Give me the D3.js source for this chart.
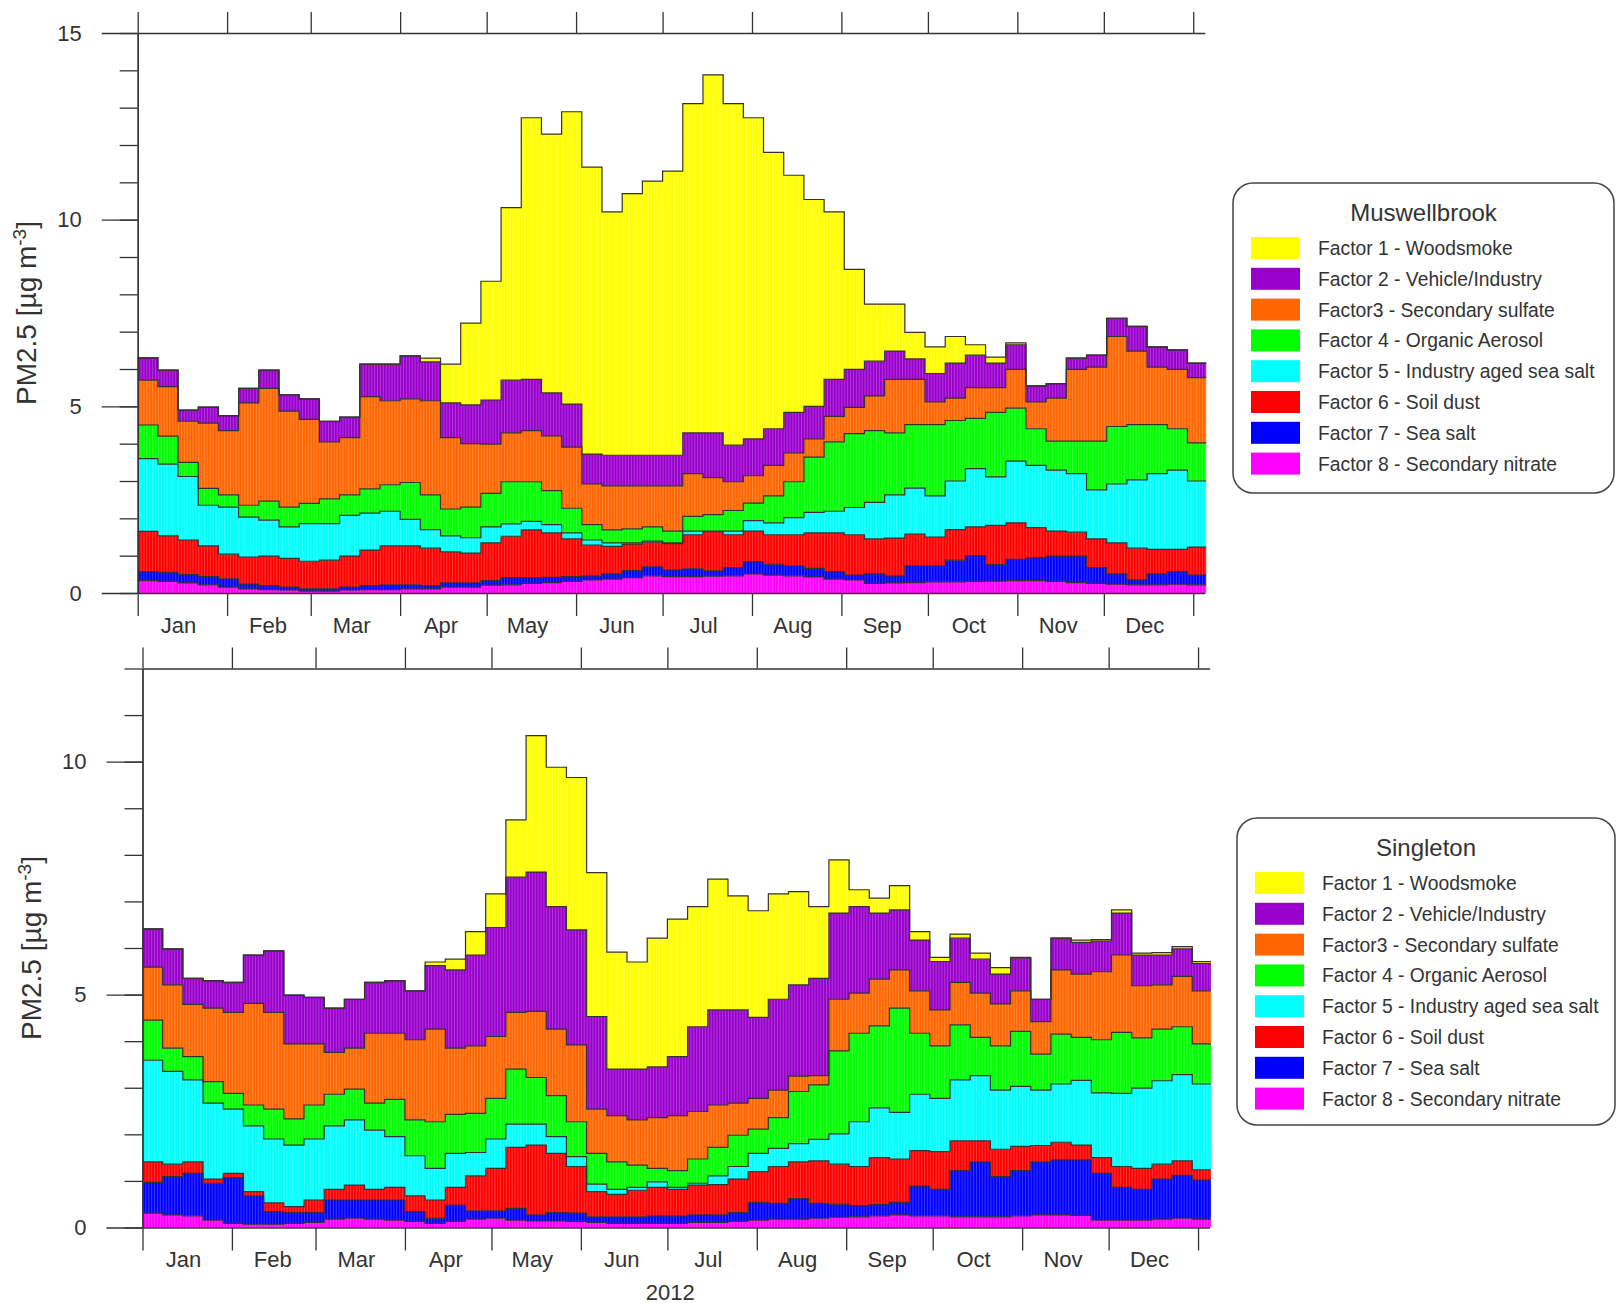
<meta charset="utf-8">
<head>
<script src="https://d3js.org/d3.v7.min.js"></script>
<style>
  body { margin: 0; background: #fff; }
  text { font-family: "Liberation Sans", Arial, sans-serif; fill: #333; }
</style>
</head>
<body>
<div id="container"></div>
<script>

// weekly samples, day of year 2012 at the start of each week
var weekDay = [0,7,14,21,28,35,42,49,56,63,70,77,84,91,98,105,112,119,126,133,140,147,154,161,168,175,182,189,196,203,210,217,224,231,238,245,252,259,266,273,280,287,294,301,308,315,322,329,336,343,350,357,364];

var months = ["Jan","Feb","Mar","Apr","May","Jun","Jul","Aug","Sep","Oct","Nov","Dec"];
var monthStart = [0,31,60,91,121,152,182,213,244,274,305,335,366];

var factorNames = ["Factor 1 - Woodsmoke","Factor 2 - Vehicle/Industry","Factor3 - Secondary sulfate","Factor 4 - Organic Aerosol","Factor 5 - Industry aged sea salt","Factor 6 - Soil dust","Factor 7 - Sea salt","Factor 8 - Secondary nitrate"];
var factorColors = ["#ffff00","#9900cc","#ff6600","#00ff00","#00ffff","#ff0000","#0000ff","#ff00ff"];

// Muswellbrook
var mus_f1 = [0,0,0,0,0,0,0,0,0,0,0,0,0,0,0.1,1.04,2.19,3.18,4.62,7.01,6.93,7.83,7.69,6.52,7.01,7.34,7.61,8.82,9.59,9.15,8.6,7.4,6.35,5.54,4.49,2.68,1.53,1.26,0.71,0.71,0.71,0.28,0.16,0.05,0,0,0,0,0,0,0,0,0];
var mus_f2 = [0.6,0.44,0.3,0.43,0.4,0.39,0.49,0.44,0.55,0.55,0.55,0.87,0.98,1.15,1.04,0.93,1.04,1.18,1.41,1.37,1.15,1.15,0.8,0.82,0.82,0.82,0.82,1.09,1.2,0.98,0.99,0.98,1.09,0.87,0.99,1.02,0.93,0.76,0.55,0.76,0.94,0.87,0.66,0.66,0.43,0.39,0.3,0.32,0.49,0.66,0.54,0.52,0.39];
var mus_f3 = [1.2,1.33,1.1,1.75,1.72,2.74,3.02,2.57,2.25,1.53,1.53,2.47,2.25,2.24,2.52,1.91,1.7,1.32,1.31,1.37,1.47,1.64,1.09,1.18,1.15,1.1,1.21,1.15,0.99,0.77,0.73,0.82,0.77,0.49,0.68,0.7,0.93,1.43,1.21,0.61,0.6,0.82,0.66,1.04,0.72,1.15,1.92,1.98,2.41,1.97,1.54,1.59,1.75];
var mus_f4 = [0.9,0.75,0.38,0.45,0.33,0.32,0.51,0.53,0.54,0.66,0.55,0.65,0.71,0.99,0.93,0.72,0.82,0.9,1.13,1.06,0.91,0.66,0.41,0.35,0.38,0.38,0.32,0.39,0.44,0.55,0.47,0.72,0.96,1.48,1.86,1.98,1.92,1.66,1.7,1.91,1.62,1.35,1.73,1.42,0.98,0.78,0.87,1.31,1.54,1.48,1.31,1.11,1.02];
var mus_f5 = [1.95,1.92,1.7,1.09,1.26,1.07,0.96,0.84,1.01,0.98,1.09,0.99,0.93,0.71,0.5,0.43,0.41,0.43,0.33,0.23,0.22,0.16,0.14,0.09,0.03,0.03,0.02,0.1,0.02,0.1,0.28,0.32,0.46,0.55,0.58,0.73,0.98,1.16,1.23,1.1,1.3,1.56,1.3,1.65,1.67,1.63,1.57,1.31,1.58,1.83,2.03,2.12,1.77];
var mus_f6 = [1.08,0.98,0.93,0.82,0.66,0.72,0.79,0.77,0.74,0.77,0.83,0.95,1.04,1.04,1.0,0.83,0.8,1.01,1.11,1.28,1.19,1.01,0.82,0.74,0.71,0.66,0.7,0.91,1.05,0.88,0.82,0.79,0.83,0.95,1.04,1.08,0.94,1.01,0.85,0.77,0.82,0.77,1.05,0.98,0.8,0.67,0.64,0.77,0.83,0.85,0.66,0.6,0.75];
var mus_f7 = [0.24,0.24,0.22,0.22,0.22,0.13,0.11,0.08,0.06,0.06,0.08,0.11,0.13,0.11,0.09,0.11,0.11,0.12,0.19,0.15,0.14,0.13,0.11,0.14,0.19,0.24,0.18,0.21,0.14,0.22,0.33,0.29,0.27,0.23,0.2,0.13,0.25,0.19,0.45,0.43,0.58,0.69,0.44,0.57,0.62,0.68,0.71,0.42,0.27,0.13,0.29,0.33,0.26];
var mus_f8 = [0.33,0.31,0.27,0.22,0.16,0.11,0.09,0.08,0.05,0.05,0.08,0.09,0.09,0.11,0.11,0.16,0.16,0.21,0.22,0.26,0.28,0.31,0.35,0.37,0.41,0.46,0.44,0.44,0.45,0.46,0.51,0.48,0.46,0.43,0.37,0.35,0.26,0.27,0.28,0.3,0.3,0.31,0.32,0.33,0.33,0.31,0.28,0.26,0.24,0.22,0.22,0.24,0.22];

// Singleton
var sin_f1 = [0,0,0,0,0,0,0,0,0,0,0,0,0,0,0.08,0.23,0.5,0.72,1.23,2.93,2.99,3.27,3.09,2.51,2.3,2.76,2.95,2.58,2.81,2.45,2.29,2.26,2.0,1.54,1.14,0.36,0.32,0.52,0.18,0.09,0.09,0.13,0.14,0.02,0,0,0.05,0.03,0.07,0.04,0.05,0.05,0.04];
var sin_f2 = [0.82,0.77,0.56,0.59,0.64,1.04,1.32,1.05,1.0,0.95,1.05,1.09,1.13,1.05,1.36,1.68,1.95,2.34,2.9,2.99,2.63,2.47,1.99,1.0,1.09,1.09,1.27,1.82,2.04,2.0,1.74,1.95,1.96,2.09,1.85,1.86,1.42,1.29,1.09,1.04,0.95,0.73,0.64,0.7,0.48,0.68,0.68,0.66,0.9,0.66,0.64,0.59,0.59];
var sin_f3 = [1.14,1.36,1.12,1.58,1.74,2.18,2.08,1.61,1.31,0.9,0.88,1.5,1.42,1.72,1.99,1.42,1.45,1.33,1.22,1.42,1.43,1.65,0.95,0.99,0.97,1.09,1.18,1.02,0.91,0.69,0.66,0.59,0.33,0.2,1.11,0.86,1.0,0.82,0.91,0.77,0.91,0.95,0.9,0.87,0.7,1.38,1.36,1.46,1.66,1.12,0.95,1.08,1.14];
var sin_f4 = [0.86,0.5,0.5,0.46,0.34,0.45,0.64,0.56,0.73,0.68,0.66,0.58,0.8,0.77,1.0,0.84,0.84,0.87,1.18,1.0,0.88,0.75,0.66,0.59,0.48,0.29,0.36,0.52,0.61,0.67,0.52,0.66,1.12,1.17,1.78,1.9,1.76,2.24,1.31,1.13,1.18,0.82,0.95,1.18,0.77,1.07,0.92,1.14,1.31,1.08,1.11,1.03,0.86];
var sin_f5 = [2.18,1.99,1.76,1.63,1.38,1.41,1.37,1.32,1.31,1.36,1.4,1.27,1.09,0.86,0.68,0.73,0.5,0.63,0.5,0.45,0.36,0.21,0.16,0.11,0.06,0.12,0.04,0.04,0.19,0.27,0.39,0.39,0.39,0.46,0.65,0.96,1.07,1.0,1.21,1.14,1.31,1.4,1.27,1.29,1.19,1.25,1.39,1.39,1.57,1.72,1.79,1.85,1.84];
var sin_f6 = [0.44,0.27,0.25,0.09,0.09,0.09,0.19,0.13,0.27,0.23,0.32,0.23,0.27,0.34,0.39,0.38,0.75,0.91,1.31,1.5,1.27,1.0,0.54,0.48,0.57,0.61,0.57,0.64,0.65,0.72,0.66,0.79,0.79,0.91,0.86,0.84,1.01,0.93,0.76,0.81,0.64,0.45,0.59,0.52,0.35,0.38,0.32,0.34,0.45,0.45,0.32,0.31,0.22];
var sin_f7 = [0.66,0.82,0.91,0.79,0.98,0.61,0.27,0.23,0.21,0.41,0.39,0.41,0.43,0.21,0.11,0.35,0.18,0.16,0.25,0.13,0.18,0.18,0.12,0.14,0.14,0.16,0.16,0.16,0.16,0.19,0.38,0.34,0.44,0.32,0.28,0.24,0.24,0.27,0.64,0.57,0.99,1.18,0.86,0.97,1.14,1.18,1.19,1.0,0.7,0.66,0.86,0.92,0.84];
var sin_f8 = [0.31,0.27,0.25,0.16,0.09,0.07,0.07,0.09,0.11,0.18,0.2,0.18,0.16,0.13,0.09,0.13,0.18,0.2,0.16,0.14,0.14,0.13,0.11,0.09,0.09,0.09,0.09,0.11,0.11,0.13,0.16,0.18,0.18,0.2,0.22,0.23,0.25,0.27,0.25,0.25,0.23,0.23,0.23,0.25,0.27,0.27,0.26,0.16,0.16,0.16,0.18,0.2,0.18];

var width = 1617, height = 1303;
var pxPerDay = 2.884;
var lastDay = 370;

var svg = d3.select('#container').append('svg')
    .attr('width', width)
    .attr('height', height);

var panels = [
  { name: 'Muswellbrook', series: [mus_f1,mus_f2,mus_f3,mus_f4,mus_f5,mus_f6,mus_f7,mus_f8],
    left: 137.7, bottom: 593, top: 33, ymax: 15, majors: [0,5,10,15],
    legend: { x: 1233, y: 183, w: 381, h: 310 }, yearLabel: false },
  { name: 'Singleton', series: [sin_f1,sin_f2,sin_f3,sin_f4,sin_f5,sin_f6,sin_f7,sin_f8],
    left: 142.5, bottom: 1227.5, top: 668.5, ymax: 12, majors: [0,5,10],
    legend: { x: 1237, y: 818, w: 378, h: 307 }, yearLabel: true }
];

panels.forEach(drawPanel);

function drawPanel(p) {
    var x = d3.scaleLinear().domain([0, lastDay]).range([p.left, p.left + lastDay*pxPerDay]);
    var y = d3.scaleLinear().domain([0, p.ymax]).range([p.bottom, p.top]);

    var keys = ['f8','f7','f6','f5','f4','f3','f2','f1'];
    var rows = weekDay.map(function(day, i) {
        var r = { day: day };
        for (var k=0; k<8; k++) r['f'+(k+1)] = p.series[k][i] || 0;
        return r;
    });
    var stacked = d3.stack().keys(keys)(rows);

    // step-after points, last week held to the end of the record
    function pts(layer) {
        var a = layer.map(function(d) { return { day: d.data.day, y0: d[0], y1: d[1] }; });
        var l = a[a.length-1];
        a.push({ day: lastDay + 0.5, y0: l.y0, y1: l.y1 });
        return a;
    }

    var area = d3.area().curve(d3.curveStepAfter)
        .x(function(d) { return x(d.day); })
        .y0(function(d) { return y(d.y0); })
        .y1(function(d) { return y(d.y1); });
    var line = d3.line().curve(d3.curveStepAfter)
        .x(function(d) { return x(d.day); })
        .y(function(d) { return y(d.y1); });

    var g = svg.append('g');
    stacked.forEach(function(layer) {
        var idx = +layer.key.slice(1) - 1;
        g.append('path').attr('d', area(pts(layer)))
            .attr('fill', factorColors[idx]).attr('stroke', 'none');
    });

    // faint daily bar edges like the original plot
    var totals = stacked[stacked.length-1];
    var days = d3.range(0, lastDay + 1);
    g.selectAll('line.day').data(days).enter().append('line')
        .attr('x1', function(d) { return x(d) + 0.5; })
        .attr('x2', function(d) { return x(d) + 0.5; })
        .attr('y1', y(0))
        .attr('y2', function(d) { var i = Math.min(Math.floor(d/7), totals.length-1); return y(totals[i][1]) + 1; })
        .attr('stroke', '#fff').attr('stroke-opacity', 0.28).attr('stroke-width', 0.8);

    stacked.forEach(function(layer) {
        g.append('path').attr('d', line(pts(layer)))
            .attr('fill', 'none').attr('stroke', '#333').attr('stroke-width', 1.2);
    });

    // axes
    var ax = svg.append('g').attr('class', 'axes');
    ax.append('g').attr('transform', 'translate(0,' + y(0) + ')')
        .call(d3.axisBottom(x).tickValues(monthStart).tickSize(23).tickSizeOuter(0).tickFormat(''));
    ax.append('g').attr('transform', 'translate(0,' + y(p.ymax) + ')')
        .call(d3.axisTop(x).tickValues(monthStart).tickSize(21).tickSizeOuter(0).tickFormat(''));
    ax.append('g').attr('transform', 'translate(' + p.left + ',0)')
        .call(d3.axisLeft(y).tickValues(d3.range(0, p.ymax + 1)).tickSize(18).tickSizeOuter(0).tickFormat(''));
    ax.append('g').attr('transform', 'translate(' + p.left + ',0)')
        .call(d3.axisLeft(y).tickValues(p.majors).tickSize(36).tickSizeOuter(0).tickPadding(20).tickFormat(d3.format('d')));

    // month names at mid month
    var mids = monthStart.slice(0, 12).map(function(d) { return d + 14; });
    ax.append('g').attr('class', 'months').attr('transform', 'translate(0,' + y(0) + ')')
        .call(d3.axisBottom(x).tickValues(mids).tickSize(0).tickPadding(24)
            .tickFormat(function(d, i) { return months[i]; }))
        .call(function(s) { s.select('.domain').remove(); });

    ax.selectAll('path, line').attr('stroke', '#333').attr('stroke-width', 1.3);
    ax.selectAll('text').style('font-size', '22px').attr('fill', '#333')
        .style('font-family', '"Liberation Sans", Arial, sans-serif');

    // y label
    var yl = svg.append('text')
        .attr('transform', 'translate(' + (p.left - 102) + ',' + ((p.top + p.bottom)/2) + ') rotate(-90)')
        .attr('text-anchor', 'middle')
        .style('font-size', '28px');
    yl.append('tspan').text('PM2.5 [µg m');
    yl.append('tspan').attr('baseline-shift', 'super').style('font-size', '19px').text('-3');
    yl.append('tspan').text(']');

    if (p.yearLabel) {
        svg.append('text').attr('x', x(183)).attr('y', p.bottom + 72)
            .attr('text-anchor', 'middle').style('font-size', '22px').text('2012');
    }

    // legend
    var L = p.legend;
    var lg = svg.append('g').attr('transform', 'translate(' + L.x + ',' + L.y + ')');
    lg.append('rect').attr('width', L.w).attr('height', L.h).attr('rx', 20).attr('ry', 20)
        .attr('fill', '#fff').attr('stroke', '#444').attr('stroke-width', 1.5);
    lg.append('text').attr('x', L.w/2).attr('y', 38).attr('text-anchor', 'middle')
        .style('font-size', '24px').text(p.name);
    var item = lg.selectAll('g.item').data(factorNames).enter().append('g')
        .attr('transform', function(d, i) { return 'translate(0,' + (65 + i*30.8) + ')'; });
    item.append('rect').attr('x', 18).attr('y', -11).attr('width', 49).attr('height', 22)
        .attr('fill', function(d, i) { return factorColors[i]; });
    item.append('text').attr('x', 85).attr('y', 7).style('font-size', '19.3px').text(function(d) { return d; });
}

</script>
</body>
